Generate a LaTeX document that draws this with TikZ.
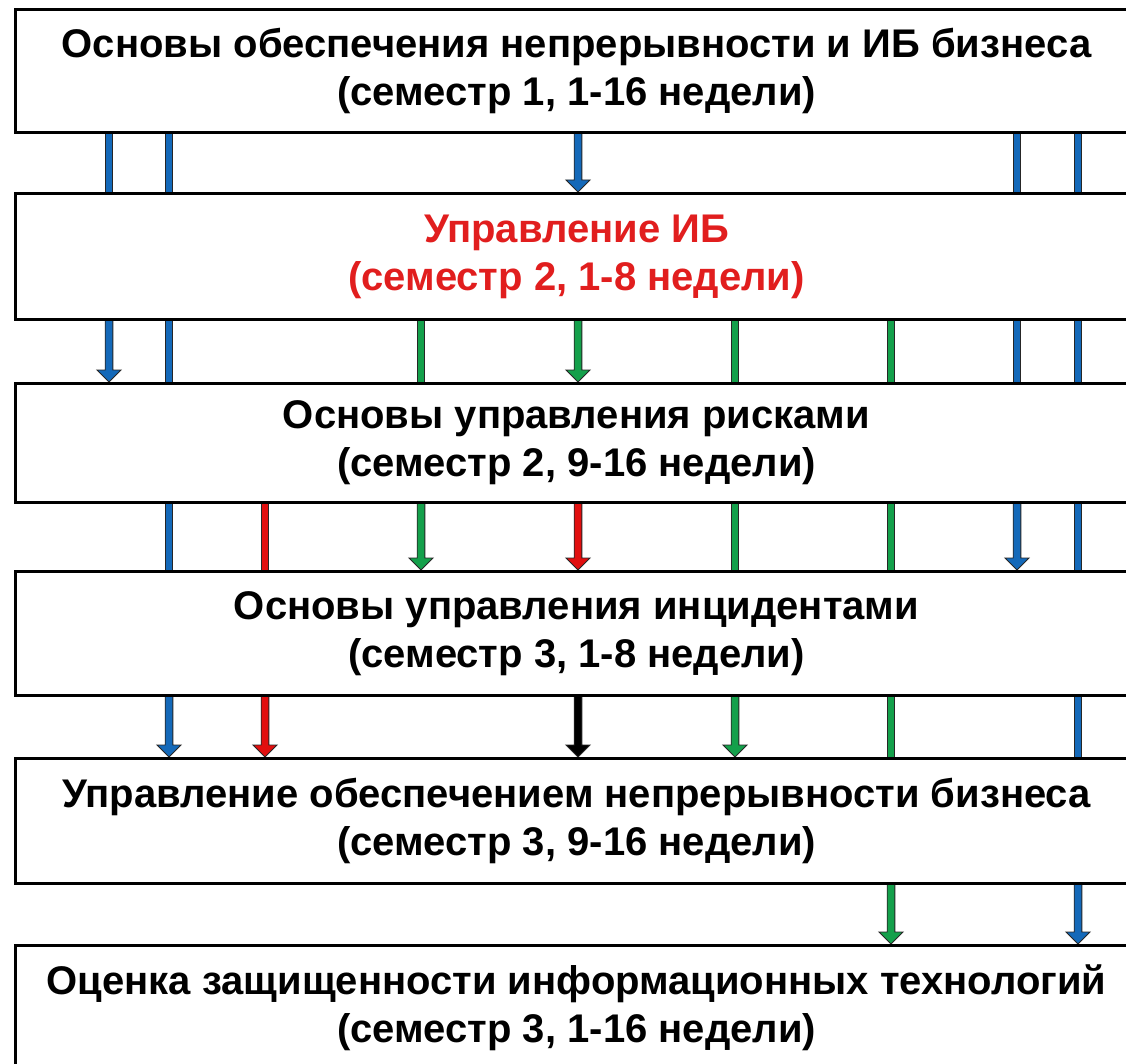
\documentclass[tikz,border=0pt]{standalone}
\usepackage{fontspec}
\setmainfont{Liberation Sans}
\usetikzlibrary{calc}

\definecolor{linkblue}{RGB}{20,105,185}
\definecolor{linkgreen}{RGB}{20,160,75}
\definecolor{linkred}{RGB}{225,15,15}
\definecolor{titlered}{RGB}{225,30,30}

\tikzset{
  frame/.style={anchor=north west, minimum width=1122pt, inner sep=0pt},
  course/.style={frame, draw=black, line width=3pt, fill=white, align=center,
    font=\fontsize{40}{48}\selectfont\bfseries},
  linkshape/.style={draw=black!85, line width=0.9pt, line join=miter}
}

% plain vertical bar between two courses, in column #3
\newcommand\flowbar[4]{%
  \path (#1.south -| #3) coordinate (fa) (#2.north -| #3) coordinate (fb);
  \filldraw[linkshape, fill=#4] ($(fa)+(-3.8,0)$) rectangle ($(fb)+(3.8,0)$);}

% vertical arrow between two courses, in column #3
\newcommand\flowarrow[4]{%
  \path (#1.south -| #3) coordinate (fa) (#2.north -| #3) coordinate (fb);
  \filldraw[linkshape, fill=#4] ($(fa)+(-3.8,0)$) -- ($(fb)+(-3.8,-12)$)
    -- ($(fb)+(-12,-12)$) -- (fb) -- ($(fb)+(12,-12)$)
    -- ($(fb)+(3.8,-12)$) -- ($(fa)+(3.8,0)$) -- cycle;}

\begin{document}
\begin{tikzpicture}[x=1pt, y=-1pt]
\useasboundingbox (0,0) rectangle (1126,1064);
\clip (0,0) rectangle (1126,1064);
\fill[white] (0,0) rectangle (1126,1064);

% columns of the links
\coordinate (c1) at (109,0);
\coordinate (c2) at (169,0);
\coordinate (c3) at (265,0);
\coordinate (c4) at (421,0);
\coordinate (c5) at (578,0);
\coordinate (c6) at (735,0);
\coordinate (c7) at (891,0);
\coordinate (c8) at (1017,0);
\coordinate (c9) at (1078,0);

% outlines of the courses, so the links can refer to them
\path
  (14,8)   node[frame, minimum height=123pt] (b1) {}
  (14,192) node[frame, minimum height=126pt] (b2) {}
  (14,382) node[frame, minimum height=119pt] (b3) {}
  (14,570) node[frame, minimum height=124pt] (b4) {}
  (14,757) node[frame, minimum height=125pt] (b5) {}
  (14,944) node[frame, minimum height=124pt] (b6) {};

% links
\flowbar{b1}{b2}{c1}{linkblue}
\flowbar{b1}{b2}{c2}{linkblue}
\flowarrow{b1}{b2}{c5}{linkblue}
\flowbar{b1}{b2}{c8}{linkblue}
\flowbar{b1}{b2}{c9}{linkblue}

\flowarrow{b2}{b3}{c1}{linkblue}
\flowbar{b2}{b3}{c2}{linkblue}
\flowbar{b2}{b3}{c4}{linkgreen}
\flowarrow{b2}{b3}{c5}{linkgreen}
\flowbar{b2}{b3}{c6}{linkgreen}
\flowbar{b2}{b3}{c7}{linkgreen}
\flowbar{b2}{b3}{c8}{linkblue}
\flowbar{b2}{b3}{c9}{linkblue}

\flowbar{b3}{b4}{c2}{linkblue}
\flowbar{b3}{b4}{c3}{linkred}
\flowarrow{b3}{b4}{c4}{linkgreen}
\flowarrow{b3}{b4}{c5}{linkred}
\flowbar{b3}{b4}{c6}{linkgreen}
\flowbar{b3}{b4}{c7}{linkgreen}
\flowarrow{b3}{b4}{c8}{linkblue}
\flowbar{b3}{b4}{c9}{linkblue}

\flowarrow{b4}{b5}{c2}{linkblue}
\flowarrow{b4}{b5}{c3}{linkred}
\flowarrow{b4}{b5}{c5}{black}
\flowarrow{b4}{b5}{c6}{linkgreen}
\flowbar{b4}{b5}{c7}{linkgreen}
\flowbar{b4}{b5}{c9}{linkblue}

\flowarrow{b5}{b6}{c7}{linkgreen}
\flowarrow{b5}{b6}{c9}{linkblue}

% the courses
\node[course, minimum height=123pt] at (b1.north west) {Основы обеспечения непрерывности и ИБ бизнеса\\(семестр 1, 1-16 недели)};
\node[course, minimum height=126pt, text=titlered] at (b2.north west) {Управление ИБ\\(семестр 2, 1-8 недели)};
\node[course, minimum height=119pt] at (b3.north west) {Основы управления рисками\\(семестр 2, 9-16 недели)};
\node[course, minimum height=124pt] at (b4.north west) {Основы управления инцидентами\\(семестр 3, 1-8 недели)};
\node[course, minimum height=125pt] at (b5.north west) {Управление обеспечением непрерывности бизнеса\\(семестр 3, 9-16 недели)};
\node[course, minimum height=124pt] at (b6.north west) {Оценка защищенности информационных технологий\\(семестр 3, 1-16 недели)};
\end{tikzpicture}
\end{document}
